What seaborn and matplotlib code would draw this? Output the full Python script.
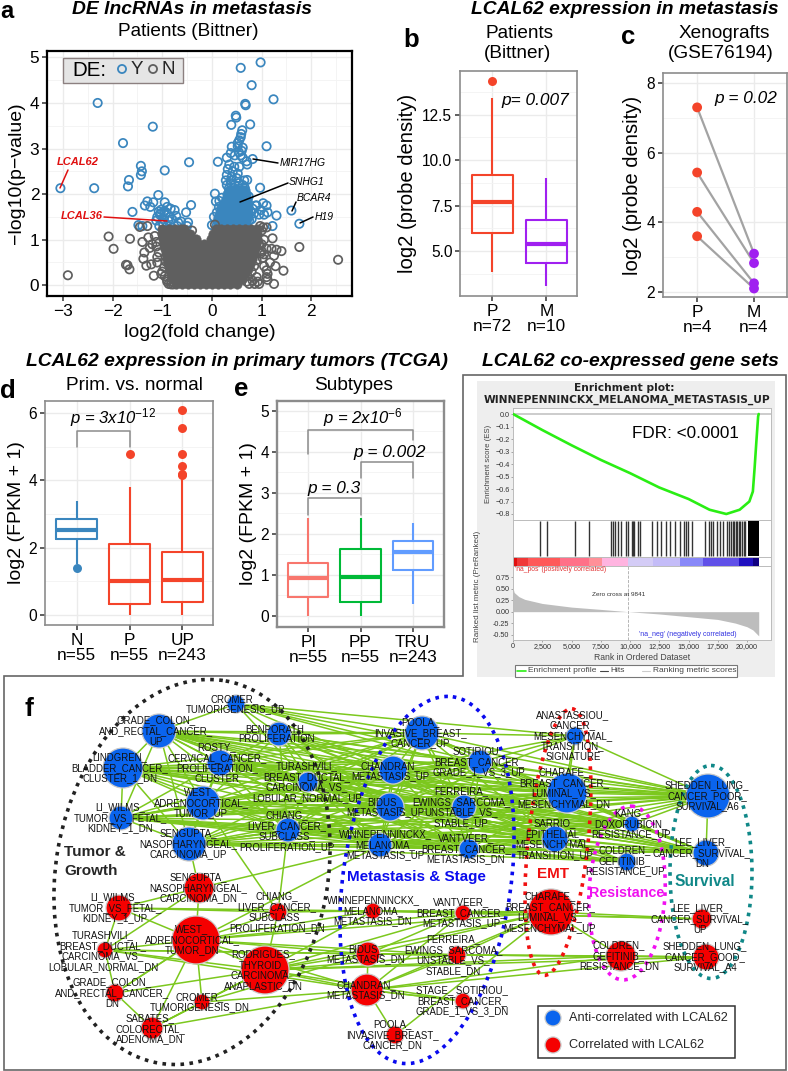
import matplotlib
matplotlib.use("Agg")
import matplotlib.pyplot as plt
from matplotlib.patches import Ellipse, Rectangle, Polygon
from matplotlib.ticker import MultipleLocator
import seaborn as sns

W, H = 788, 1071
sns.set_theme(style="whitegrid")
plt.rcParams['font.family'] = ['Liberation Sans', 'DejaVu Sans']
plt.rcParams['mathtext.fontset'] = 'custom'
plt.rcParams['mathtext.it'] = 'Liberation Sans:italic'
plt.rcParams['mathtext.rm'] = 'Liberation Sans'

# ---------- DATA ----------
blue_out_x = [-3.05,-2.37,-2.3,-1.79,-1.19,-1.43,-1.41,-1.43,-0.95,-0.46,-1.67,-1.69,-1.6,-1.08,
 -1.35,-1.3,-1.24,-1.18,-0.95,-0.9,-1.02,-1.05,-1.1,-1.12,-0.98,-0.92,-0.83,-0.85,-0.75,-0.72,-0.68,-0.62,-0.52,-0.42,-0.48,-0.5,-0.88,-1.0,-1.06,-1.48,-1.4,-0.7,-1.03,-0.96,-0.9,-0.98,-1.07,-0.8,
 0.98,0.58,0.8,1.24,0.67,0.68,0.48,0.49,0.39,0.77,0.61,0.59,0.58,0.55,0.52,1.1,0.4,0.52,0.62,0.6,0.54,0.38,0.46,0.3,0.58,0.62,0.82,0.7,0.71,0.12,0.35,0.45,0.55,0.32,0.42,0.52,0.3,0.4,0.28,0.5,0.38,0.65,0.71,0.97,0.06,
 0.9,0.98,1.03,1.1,1.12,1.05,0.95,0.85,0.8,0.75,1.3,1.22,0.88,0.82,1.6,1.76,0.1,0.0,0.04,0.1,0.15,0.16,0.2,
 0.3,0.38,0.46,0.54,0.62,0.34,0.44,0.56,0.66,0.2,0.74,0.78,0.72,0.08,0.14]
blue_out_y = [2.13,2.13,4.0,3.12,3.48,2.62,2.5,2.42,2.52,2.7,2.31,2.17,1.61,1.98,
 1.75,1.84,1.72,1.82,1.82,1.72,1.66,1.55,1.5,1.42,1.45,1.6,1.68,1.5,1.65,1.52,1.38,1.4,1.6,1.76,1.38,1.3,1.42,1.38,1.3,1.32,1.3,1.3,1.58,1.62,1.3,1.35,1.62,1.45,
 4.89,4.77,4.39,4.08,3.98,3.95,3.72,3.68,3.52,3.53,3.4,3.32,3.25,3.18,3.12,3.05,3.04,3.05,3.02,2.95,2.92,2.9,2.85,2.8,2.85,2.8,2.77,2.72,2.65,2.71,2.65,2.6,2.6,2.55,2.5,2.45,2.42,2.38,2.3,2.35,2.3,2.3,2.31,2.14,2.01,
 1.75,1.65,1.8,1.75,1.6,1.55,1.55,1.58,1.45,1.42,1.53,1.3,1.75,1.68,1.64,1.35,1.32,1.32,1.5,1.6,1.85,1.5,1.7,
 2.2,2.24,2.2,2.24,2.2,2.12,2.14,2.12,2.14,1.92,1.95,1.62,1.48,1.84,1.72]
blue_core = {
 2.1:[0.34,0.42,0.5,0.58,0.66], 2.0:[0.3,0.38,0.46,0.54,0.62,0.68], 1.9:[0.28,0.36,0.44,0.52,0.6,0.7],
 1.8:[0.24,0.32,0.4,0.48,0.56,0.64,0.72], 1.7:[0.2,0.28,0.36,0.44,0.52,0.6,0.68,0.72], 1.6:[0.16,0.24,0.32,0.4,0.48,0.56,0.64,0.72],
 1.5:[0.12,0.2,0.28,0.36,0.44,0.52,0.6,0.68,0.72], 1.4:[0.1,0.18,0.26,0.34,0.42,0.5,0.58,0.68], 1.3:[0.12,0.2,0.28,0.36,0.44,0.52,0.6]}
grey_out_x = [-2.9,-2.08,-1.98,-1.65,-1.73,-1.7,-1.66,-1.4,-1.36,-1.38,-1.32,-1.22,-1.17,-1.45,-1.3,-1.15,2.54,1.76,1.44,1.25,0.95,1.4,1.3,1.2,1.25,1.28,1.05,1.1,1.12,1.1,1.17,1.22,1.1,1.05,1.0,1.0,1.03,1.1,0.97,0.75,
 -1.28,-1.2,-1.25,-1.12,-1.07,-1.1,-1.02,-0.96,-0.93,-0.9,-0.87,-0.82,-0.78,-0.4,1.12,1.02,0.98,0.92,0.9,0.86,0.82,0.06,
 -1.1,-1.0,-0.95,-0.9,0.7,0.72,0.8,0.85,0.9,1.0,0.95,1.05,-1.12,-0.82]
grey_out_y = [0.22,1.07,0.8,1.02,0.45,0.44,0.35,0.95,0.72,0.58,0.43,0.46,0.21,1.28,1.3,1.08,0.56,0.84,0.32,0.03,0.03,0.75,0.78,0.8,0.65,0.42,0.42,0.33,0.25,0.18,0.5,1.03,0.8,1.0,0.9,1.2,1.27,1.27,1.3,0.03,
 1.05,0.9,0.82,0.95,0.72,0.62,0.25,0.4,0.52,0.12,0.03,0.08,0.02,1.2,0.12,0.6,0.7,0.08,0.18,0.03,0.1,1.33,
 0.5,0.3,0.2,0.08,0.08,0.2,0.3,0.42,0.55,0.75,0.9,0.68,0.85,0.02]
grey_core = {
 0.03:[-0.72,-0.6,-0.48,-0.36,-0.24,-0.12,0.0,0.12,0.24,0.36,0.5],
 0.14:[-0.78,-0.68,-0.56,-0.44,-0.32,-0.2,-0.08,0.04,0.16,0.28,0.4,0.52,0.6],
 0.25:[-0.82,-0.72,-0.6,-0.48,-0.36,-0.24,-0.12,0.0,0.12,0.24,0.36,0.48,0.6,0.66],
 0.36:[-0.85,-0.76,-0.64,-0.52,-0.4,-0.28,-0.16,-0.04,0.08,0.2,0.32,0.44,0.56,0.68,0.72],
 0.47:[-0.88,-0.78,-0.66,-0.54,-0.42,-0.3,-0.18,-0.06,0.06,0.18,0.3,0.42,0.54,0.66,0.76],
 0.58:[-0.9,-0.8,-0.68,-0.56,-0.44,-0.32,-0.2,-0.08,0.04,0.16,0.28,0.4,0.52,0.64,0.76,0.8],
 0.69:[-0.92,-0.84,-0.72,-0.6,-0.48,-0.36,-0.24,-0.12,0.0,0.12,0.24,0.36,0.48,0.6,0.72,0.84],
 0.8:[-0.94,-0.86,-0.74,-0.62,-0.5,-0.38,-0.26,-0.14,-0.02,0.1,0.22,0.34,0.46,0.58,0.7,0.86],
 0.91:[-0.96,-0.88,-0.76,-0.64,-0.52,-0.4,-0.28,-0.16,0.0,0.12,0.24,0.36,0.48,0.6,0.72,0.88],
 1.02:[-0.98,-0.9,-0.78,-0.66,-0.54,-0.42,-0.32,-0.02,0.08,0.2,0.32,0.44,0.56,0.68,0.8,0.9],
 1.13:[-1.0,-0.91,-0.79,-0.67,-0.55,-0.45,0.02,0.12,0.24,0.36,0.48,0.6,0.72,0.84,0.9],
 1.24:[-1.0,-0.86,-0.74,-0.62,-0.56,0.08,0.18,0.3,0.42,0.54,0.66,0.78,0.9]}

b_cats = ["P\nn=72", "M\nn=10"]
b_P = [3.85, 6.0, 7.7, 9.2, 13.4]
b_M = [3.1, 4.35, 5.4, 6.7, 9.0]
b_out = [14.35]
c_P = [7.3, 5.43, 4.3, 3.6]
c_M = [3.1, 2.83, 2.25, 2.1]
c_pair = [0, 1, 2, 3]
d_cats = ["N\nn=55", "P\nn=55", "UP\nn=243"]
d_N = [1.5, 2.25, 2.52, 2.85, 3.4]
d_Pr = [0.0, 0.33, 1.0, 2.1, 3.8]
d_UP = [0.0, 0.38, 1.05, 1.88, 4.1]
d_out_N = [1.38]
d_out_P = [4.78]
d_out_UP = [4.15, 4.2, 4.42, 4.78, 5.55, 6.08]
e_cats = ["PI\nn=55", "PP\nn=55", "TRU\nn=243"]
e_PI = [0.0, 0.45, 0.92, 1.28, 2.38]
e_PP = [0.0, 0.35, 0.95, 1.62, 2.38]
e_TRU = [0.3, 1.13, 1.56, 1.83, 2.27]
es_rank = [0,2500,5000,7500,10000,12500,15000,16800,18230,19370,20200,20500,20650,20800,20950,21000]
es_val = [0,-0.128,-0.25,-0.367,-0.473,-0.588,-0.68,-0.766,-0.8,-0.766,-0.70,-0.62,-0.43,-0.22,-0.02,0]
hit_ranks = [2290,2940,5340,6490,8340,8510,8740,9000,9200,9630,9860,10170,10260,10340,10710,10860,11910,12290,12660,13060,13430,13860,14230,14630,14800,14940,15290,16370,16710,16910,17060,17430,17660,17940,18290,18460,18630,18770,18910,19060,19140,19290,19430,19570,19710,19860]
band_edges = [0,300,1300,4000,6500,7600,9841,12000,14300,16200,19300,20500,21000]
band_colors = ['#E01010','#F03838','#FF5858','#FF7088','#FF9098','#FFB4E0','#D4CCF6','#C4BCF8','#8888F8','#6050E8','#2010C0','#100080']
metric_rank = [0,100,500,1000,2500,5000,7500,9841,12500,15000,17500,19000,20000,20500,21000]
metric_val = [0.52,0.42,0.33,0.27,0.18,0.10,0.05,0,-0.05,-0.11,-0.17,-0.25,-0.33,-0.40,-0.53]

node_labels = ["CROMER_\nTUMORIGENESIS_UP","GRADE_COLON_\nAND_RECTAL_CANCER_\nUP","BENPORATH_\nPROLIFERATION","ROSTY_\nCERVICAL_CANCER_\nPROLIFERATION_\nCLUSTER",
 "LINDGREN_\nBLADDER_CANCER_\nCLUSTER_1_DN","TURASHVILI_\nBREAST_DUCTAL_\nCARCINOMA_VS_\nLOBULAR_NORMAL_UP","WEST_\nADRENOCORTICAL_\nTUMOR_UP","LI_WILMS_\nTUMOR_VS_FETAL_\nKIDNEY_1_DN",
 "CHIANG_\nLIVER_CANCER_\nSUBCLASS_\nPROLIFERATION_UP","SENGUPTA_\nNASOPHARYNGEAL_\nCARCINOMA_UP","CHANDRAN_\nMETASTASIS_UP","BIDUS_\nMETASTASIS_UP",
 "WINNEPENNINCKX_\nMELANOMA_\nMETASTASIS_UP","POOLA_\nINVASIVE_BREAST_\nCANCER_UP","SOTIRIOU_\nBREAST_CANCER_\nGRADE_1_VS_3_UP","FERREIRA_\nEWINGS_SARCOMA_\nUNSTABLE_VS_\nSTABLE_UP",
 "VANTVEER_\nBREAST_CANCER_\nMETASTASIS_DN","ANASTASSIOU_\nCANCER_\nMESENCHYMAL_\nTRANSITION_\nSIGNATURE","CHARAFE_\nBREAST_CANCER_\nLUMINAL_VS_\nMESENCHYMAL_DN","SARRIO_\nEPITHELIAL_\nMESENCHYMAL_\nTRANSITION_UP",
 "KANG_\nDOXORUBICIN_\nRESISTANCE_UP","COLDREN_\nGEFITINIB_\nRESISTANCE_UP","SHEDDEN_LUNG_\nCANCER_POOR_\nSURVIVAL_A6","LEE_LIVER_\nCANCER_SURVIVAL_\nDN",
 "SENGUPTA_\nNASOPHARYNGEAL_\nCARCINOMA_DN","LI_WILMS_\nTUMOR_VS_FETAL_\nKIDNEY_1_UP","CHIANG_\nLIVER_CANCER_\nSUBCLASS_\nPROLIFERATION_DN","WEST_\nADRENOCORTICAL_\nTUMOR_DN",
 "TURASHVILI_\nBREAST_DUCTAL_\nCARCINOMA_VS_\nLOBULAR_NORMAL_DN","RODRIGUES_\nTHYROID_\nCARCINOMA_\nANAPLASTIC_DN","GRADE_COLON_\nAND_RECTAL_CANCER_\nDN","CROMER_\nTUMORIGENESIS_DN",
 "SABATES_\nCOLORECTAL_\nADENOMA_DN","WINNEPENNINCKX_\nMELANOMA_\nMETASTASIS_DN","BIDUS_\nMETASTASIS_DN","CHANDRAN_\nMETASTASIS_DN",
 "POOLA_\nINVASIVE_BREAST_\nCANCER_DN","VANTVEER_\nBREAST_CANCER_\nMETASTASIS_UP","FERREIRA_\nEWINGS_SARCOMA_\nUNSTABLE_VS_\nSTABLE_DN","STAGE_ SOTIRIOU_\nBREAST_CANCER_\nGRADE_1_VS_3_DN",
 "CHARAFE_\nBREAST_CANCER_\nLUMINAL_VS_\nMESENCHYMAL_UP","COLDREN_\nGEFITINIB_\nRESISTANCE_DN","LEE_LIVER_\nCANCER_SURVIVAL_\nUP","SHEDDEN_LUNG_\nCANCER_GOOD_\nSURVIVAL_A4"]
node_x = [236,159,279,220,123,308,203,121,288,189,393,390,380,422,480,464,469,575,567,555,632,627,708,706,
          199,119,278,196,105,265,115,202,152,373,368,367,395,463,457,463,551,621,702,706]
node_y = [704,731,734,763,768,782,803,818,830,844,770,807,845,733,762,807,849,736,793,839,824,862,796,853,
          888,908,912,940,950,970,993,1002,1028,911,954,990,1035,913,955,1001,912,956,919,957]
node_r = [9,17,12,13,20,10,17,12,12,17,14,14,12,17,12,12,10,9,20,13,8,9,22,13,
          15,13,9,24,8,24,9,8,11,8,12,16,9,8,9,8,23,15,10,13]
label_x = [235,156,277,217,120,307,201,120,287,188,390,385,385,420,479,461,466,573,564,555,631,625,707,702,
           198,115,277,192,103,263,112,200,150,373,366,366,392,461,453,462,550,619,700,705]
label_y = [704,731,734,763,768,782,803,818,831,844,771,807,845,733,762,807,849,736,788,839,824,861,796,853,
           888,908,912,940,951,970,993,1002,1029,911,954,990,1035,913,955,1001,912,956,919,957]
blue_hub_edges = {
 0:[1,2,5,10,13,14,17,18,22],
 1:[2,3,4,5,6,7,8,9,10,11,12,13,14,15,16,18,19,20,22,23],
 2:[3,5,6,8,10,11,12,13,14,15,16,18,19,20,22],
 3:[4,5,6,7,8,9,10,11,12,13,14,15,16,18,19,20,22,23],
 4:[6,7,8,9,10,11,12,13,14,15,16,18,19,20,22,23,5],
 5:[6,8,10,11,12,13,14,15,16,18,19,20,22,23],
 6:[7,8,9,10,11,12,13,14,15,16,18,19,20,21,22,23],
 7:[8,9,10,11,12,13,14,15,16,18,19,20,21,22,23],
 8:[9,10,11,12,13,14,15,16,18,19,20,21,22,23],
 9:[10,11,12,13,14,15,16,18,19,20,21,22,23],
 10:[11,12,13,14,15,16,17,18,19,20,21,22,23],
 11:[12,13,14,15,16,17,18,19,20,21,22,23],
 12:[13,14,15,16,18,19,20,21,22,23],
 13:[14,15,16,17,18,19,22,23],
 14:[15,16,17,18,19,22,23],
 15:[16,18,19,20,22,23],
 16:[18,19,20,21,22,23],
 17:[18,19,22],18:[19,20,22,23],19:[20,21,22,23],20:[22,23],22:[23]}
red_hub_edges = {
 24:[25,27,28,9,12],25:[27,28,26,33],26:[27,29,33,6,8],27:[28,29,30,31,32,33,34,35,37,38,40,12],
 28:[29,30,34,35,38],29:[30,31,32,33,34,35,37,38,39,40,41,43],30:[32,27],31:[32,35,34],32:[35,29],
 33:[37,40,42],34:[35,37,38,40,43],35:[36,38,39,40,41,43,37],38:[40,41,43,34],37:[40,42],39:[35],40:[41,42,33,36],41:[43]}
anti_label = "Anti-correlated with LCAL62"
corr_label = "Correlated with LCAL62"

RED = '#F4442A'; PURPLE = '#A020F0'; STEEL = '#3A86BE'; GREYPT = '#5F5F5F'; GRID = '#EBEBEB'

fig = plt.figure(figsize=(W/100, H/100), dpi=100, facecolor='white')

def axpx(l, t, r, b, **kw):
    return fig.add_axes([l/W, 1-b/H, (r-l)/W, (b-t)/H], **kw)

def style(ax, spine='#8C8C8C', lw=1.2, yfs=11.2, xfs=12.4):
    ax.set_axisbelow(True)
    ax.grid(True, which='major', color=GRID, lw=1.0)
    ax.grid(True, which='minor', color='#F3F3F3', lw=0.6)
    for s in ax.spines.values():
        s.set_visible(True); s.set_color(spine); s.set_linewidth(lw)
    ax.tick_params(which='major', axis='both', length=3.5, width=1.1, color='#333333',
                   labelcolor='black', bottom=True, left=True, pad=2)
    ax.tick_params(axis='y', labelsize=yfs)
    ax.tick_params(axis='x', labelsize=xfs)
    ax.tick_params(which='minor', length=0)
    for t in ax.get_xticklabels():
        t.set_linespacing(1.0)

def rings(ax, x, y, color, s=36, lw=1.25, z=3):
    sns.scatterplot(x=x, y=y, s=s, color=color, ax=ax, legend=False, zorder=z)
    pc = ax.collections[-1]
    pc.set_facecolor('none'); pc.set_edgecolor(color); pc.set_linewidth(lw)

def box(ax, cats, vals, cols, width=0.77):
    xs = [c for c, v in zip(cats, vals) for _ in v]
    ys = [q for v in vals for q in v]
    sns.boxplot(x=xs, y=ys, hue=xs, order=cats, hue_order=cats, palette=dict(zip(cats, cols)),
                fill=False, width=width, whis=(0, 100), linewidth=1.5, gap=0,
                showcaps=False, dodge=False, legend=False, ax=ax,
                medianprops=dict(linewidth=3.0), showfliers=False)

LBL = 14.0
# ---------- a: volcano ----------
ax = axpx(47, 51, 352, 296)
gx = [x for y, xs in grey_core.items() for x in xs]
gy = [y for y, xs in grey_core.items() for x in xs]
sns.scatterplot(x=gx, y=gy, s=46, color=GREYPT, ax=ax, legend=False, zorder=3, edgecolor=GREYPT, linewidth=0.4)
rings(ax, grey_out_x, grey_out_y, GREYPT)
bx = [x for y, xs in blue_core.items() for x in xs]
by = [y for y, xs in blue_core.items() for x in xs]
sns.scatterplot(x=bx, y=by, s=46, color=STEEL, ax=ax, legend=False, zorder=2, edgecolor=STEEL, linewidth=0.4)
rings(ax, blue_out_x, blue_out_y, STEEL, z=2.5)
ax.set_xlim(-3.32, 2.82); ax.set_ylim(-0.235, 5.14)
ax.xaxis.set_major_locator(MultipleLocator(1)); ax.xaxis.set_minor_locator(MultipleLocator(0.5))
ax.yaxis.set_major_locator(MultipleLocator(1)); ax.yaxis.set_minor_locator(MultipleLocator(0.5))
style(ax, spine='black', lw=1.6, yfs=12.4, xfs=12.4)
ax.set_xlabel("log2(fold change)", fontsize=LBL, labelpad=4, color='black')
ax.set_ylabel("\u2212log10(p\u2212value)", fontsize=LBL, labelpad=3, color='black')

# ---------- b ----------
ax = axpx(460, 71, 577, 296)
box(ax, b_cats, [b_P, b_M], [RED, PURPLE])
sns.scatterplot(x=[b_cats[0]]*len(b_out), y=b_out, s=42, color=RED, linewidth=0, ax=ax, legend=False, zorder=4)
ax.set_xlim(-0.6, 1.57); ax.set_ylim(2.53, 14.9)
ax.yaxis.set_major_locator(MultipleLocator(2.5)); ax.yaxis.set_minor_locator(MultipleLocator(1.25))
style(ax)
ax.set_ylabel("log2 (probe density)", fontsize=14.6, labelpad=4, color='black')
ax.set_xlabel("")
ax.yaxis.set_major_formatter(lambda v, p: f"{v:.1f}")

# ---------- c ----------
ax = axpx(663, 73, 787, 297)
c_xcats = ["P\nn=4", "M\nn=4"]
lx = [c_xcats[0]]*4 + [c_xcats[1]]*4
sns.lineplot(x=lx, y=c_P + c_M, units=c_pair + c_pair, estimator=None, color='#A3A3A3', lw=1.6, ax=ax, legend=False, zorder=2, sort=False)
sns.scatterplot(x=lx, y=c_P + c_M, hue=lx, palette={c_xcats[0]: RED, c_xcats[1]: PURPLE}, s=50, linewidth=0, ax=ax, legend=False, zorder=3)
ax.set_xlim(-0.6, 1.58); ax.set_ylim(1.856, 8.287)
ax.yaxis.set_major_locator(MultipleLocator(2)); ax.yaxis.set_minor_locator(MultipleLocator(1))
style(ax)
ax.set_ylabel("log2 (probe density)", fontsize=14.6, labelpad=3.5, color='black')

# ---------- d ----------
ax = axpx(45, 401, 213, 625)
box(ax, d_cats, [d_N, d_Pr, d_UP], [STEEL, RED, RED])
sns.scatterplot(x=[d_cats[0]]*len(d_out_N), y=d_out_N, s=42, color=STEEL, linewidth=0, ax=ax, legend=False, zorder=4)
sns.scatterplot(x=[d_cats[1]]*len(d_out_P), y=d_out_P, s=42, color=RED, linewidth=0, ax=ax, legend=False, zorder=4)
sns.scatterplot(x=[d_cats[2]]*len(d_out_UP), y=d_out_UP, s=42, color=RED, linewidth=0, ax=ax, legend=False, zorder=4)
ax.set_xlim(-0.6, 2.58); ax.set_ylim(-0.3, 6.36)
ax.yaxis.set_major_locator(MultipleLocator(2)); ax.yaxis.set_minor_locator(MultipleLocator(1))
style(ax)
ax.set_ylabel("log2 (FPKM + 1)", fontsize=LBL, labelpad=3, color='black')
ax.plot([0, 0, 1, 1], [4.98, 5.46, 5.46, 4.98], color='#8C8C8C', lw=1.1, zorder=3)

# ---------- e ----------
ax = axpx(277, 401, 444, 627)
box(ax, e_cats, [e_PI, e_PP, e_TRU], ['#F8766D', '#00BA38', '#619CFF'])
ax.set_xlim(-0.6, 2.6); ax.set_ylim(-0.27, 5.24)
ax.yaxis.set_major_locator(MultipleLocator(1)); ax.yaxis.set_minor_locator(MultipleLocator(0.5))
style(ax, lw=1.7)
ax.set_ylabel("log2 (FPKM + 1)", fontsize=LBL, labelpad=3, color='black')
ax.plot([0, 0, 2, 2], [3.95, 4.53, 4.53, 4.29], color='#8C8C8C', lw=1.1, zorder=3)
ax.plot([1, 1, 2, 2], [3.36, 3.76, 3.76, 3.36], color='#8C8C8C', lw=1.1, zorder=3)
ax.plot([0, 0, 1, 1], [2.46, 2.87, 2.87, 2.46], color='#8C8C8C', lw=1.1, zorder=3)

# ---------- overlay ----------
ov = fig.add_axes([0, 0, 1, 1], zorder=10)
ov.patch.set_alpha(0); ov.set_xlim(0, W); ov.set_ylim(H, 0); ov.axis('off')

# outer frame of panels (GSEA + f share one outline)
ov.add_patch(Polygon([(4.5, 675.5), (463.5, 675.5), (463.5, 374.5), (786.5, 374.5), (786.5, 1070), (4.5, 1070)],
                     closed=True, fill=False, ec='#666666', lw=1.2))
ov.add_patch(Rectangle((477, 381), 298, 296, fc='#EEEEEE', ec='none', zorder=0))

def gs_style(ax):
    for s in ax.spines.values():
        s.set_color('#BBBBBB'); s.set_linewidth(0.7)
    ax.tick_params(axis='both', labelsize=5.2, length=1.5, width=0.5, color='#888888', labelcolor='#333333', pad=1, bottom=True, left=True)
    ax.set_facecolor('white'); ax.grid(False); ax.set_zorder(11)

a1 = axpx(513, 408, 771, 520); gs_style(a1)
a1.axhline(0, color='#CCCCCC', lw=1.4, zorder=1)
sns.lineplot(x=es_rank, y=es_val, color='#2AEE14', lw=1.9, ax=a1, legend=False, zorder=3, estimator=None, sort=False)
a1.set_xlim(0, 22050); a1.set_ylim(-0.848, 0.048); a1.set_xticks([])
a1.set_yticks([0, -.1, -.2, -.3, -.4, -.5, -.6, -.7, -.8])
a1.set_ylabel("Enrichment score (ES)", fontsize=5.6, color='#444444', labelpad=2)

a2 = axpx(513, 520, 771, 557); gs_style(a2)
a2.vlines(hit_ranks, 0.02, 0.98, color='#333333', lw=1.0)
a2.axvspan(20060, 21000, ymin=0.02, ymax=0.98, color='black', lw=0)
a2.set_xlim(0, 22050); a2.set_ylim(0, 1); a2.set_xticks([]); a2.set_yticks([])

a3 = axpx(513, 557, 771, 566); gs_style(a3)
for i, c in enumerate(band_colors):
    a3.axvspan(band_edges[i], band_edges[i+1], color=c, lw=0)
a3.set_xlim(0, 22050); a3.set_xticks([]); a3.set_yticks([])

a4 = axpx(513, 566, 771, 640); gs_style(a4)
a4.fill_between(metric_rank, metric_val, 0, color='#BDBDBD', lw=0)
a4.axvline(9841, color='#AAAAAA', lw=0.6, ls='--')
a4.set_xlim(0, 22050); a4.set_ylim(-0.62, 1.0)
a4.set_yticks([0.75, 0.5, 0.25, 0, -0.25, -0.5]); a4.set_yticklabels(['0.75','0.50','0.25','0.00','-0.25','-0.50'])
a4.set_xticks([0, 2500, 5000, 7500, 10000, 12500, 15000, 17500, 20000])
a4.set_xticklabels(['0','2,500','5,000','7,500','10,000','12,500','15,000','17,500','20,000'])
a4.set_ylabel("Ranked list metric (PreRanked)", fontsize=5.8, color='#444444', labelpad=4)
a4.yaxis.set_label_coords(-0.125, 0.72)
a4.set_xlabel("Rank in Ordered Dataset", fontsize=6.2, color='#444444', labelpad=1.5)
a4.text(9000, 0.38, "Zero cross at 9841", fontsize=4.6, color='#333333', ha='center', va='center')
a4.text(200, 0.92, "'na_pos' (positively correlated)", fontsize=4.9, color='#E03030', ha='left', va='center')
a4.text(14900, -0.51, "'na_neg' (negatively correlated)", fontsize=5.0, color='#3030E0', ha='center', va='center')

top = fig.add_axes([0, 0, 1, 1], zorder=12)
top.patch.set_alpha(0); top.set_xlim(0, W); top.set_ylim(H, 0); top.axis('off')
top.text(632, 434, "FDR: <0.0001", fontsize=12.3, ha='left', va='center', color='black')
ov.text(624, 388, "Enrichment plot:", fontsize=7.7, fontweight='bold', family='DejaVu Sans', ha='center', va='center', color='#222222')
ov.text(627, 400, "WINNEPENNINCKX_MELANOMA_METASTASIS_UP", fontsize=7.7, fontweight='bold', family='DejaVu Sans', ha='center', va='center', color='#222222')
ov.add_patch(Rectangle((515, 665), 222, 12, fc='white', ec='#777777', lw=0.8))
ov.plot([517, 526], [671, 671], color='#2AEE14', lw=1.2)
ov.text(528, 671, "Enrichment profile", fontsize=6, va='center', color='#444444')
ov.plot([600, 608], [671, 671], color='#444444', lw=0.8)
ov.text(610, 671, "Hits", fontsize=6, va='center', color='#444444')
ov.plot([642, 650], [671, 671], color='#CCCCCC', lw=0.8)
ov.text(653, 671, "Ranking metric scores", fontsize=6, va='center', color='#444444')

# volcano legend
ov.add_patch(Rectangle((63.5, 57.5), 120, 25, fc='#E5E5E5', ec='#8C8080', lw=1.0))
ov.text(72, 70, "DE:", fontsize=14.8, va='center', color='black')
sns.scatterplot(x=[122], y=[69], s=34, color=STEEL, ax=ov, legend=False)
ov.collections[-1].set_facecolor('none'); ov.collections[-1].set_edgecolor(STEEL); ov.collections[-1].set_linewidth(1.3)
sns.scatterplot(x=[153], y=[69], s=34, color=GREYPT, ax=ov, legend=False)
ov.collections[-1].set_facecolor('none'); ov.collections[-1].set_edgecolor(GREYPT); ov.collections[-1].set_linewidth(1.3)
ov.text(137, 70, "Y", fontsize=13.5, ha='center', va='center')
ov.text(168, 70, "N", fontsize=13.5, ha='center', va='center')

# volcano annotations
for t, tx, ty, x0, y0, x1, y1, col, fs, wt in [
    ("LCAL62", 78, 162, 68, 170, 60, 188, '#E01010', 8.0, 'bold'),
    ("LCAL36", 82, 216, 104, 217, 167, 221, '#E01010', 8.0, 'bold'),
    ("MIR17HG", 303, 163, 278, 163, 253, 159, 'black', 7.5, 'normal'),
    ("SNHG1", 307, 182, 288, 183, 240, 202, 'black', 7.5, 'normal'),
    ("BCAR4", 314, 198, 296, 202, 292, 211, 'black', 7.5, 'normal'),
    ("H19", 324, 217, 313, 217, 300, 223, 'black', 7.5, 'normal')]:
    ov.text(tx, ty, t, fontsize=fs, style='italic', fontweight=wt, color=col, ha='center', va='center')
    ov.plot([x0, x1], [y0, y1], color=col, lw=1.1)

# Titles
def bi(x, y, t, fs=13.9):
    ov.text(x, y, t, fontsize=fs, fontweight='bold', style='italic', ha='center', va='center', color='black')
def nt(x, y, t, fs=13.7):
    ov.text(x, y, t, fontsize=fs, ha='center', va='center', color='black')
def let(x, y, t, fs=18.5):
    ov.text(x, y, t, fontsize=fs, fontweight='bold', ha='center', va='baseline', color='black')
bi(192, 10, "DE lncRNAs in metastasis"); bi(625, 10, "LCAL62 expression in metastasis")
bi(237, 362, "LCAL62 expression in primary tumors (TCGA)"); bi(630, 362, "LCAL62 co-expressed gene sets")
nt(188, 31, "Patients (Bittner)"); nt(520, 34, "Patients"); nt(518, 54, "(Bittner)")
nt(724, 34, "Xenografts"); nt(721, 54, "(GSE76194)")
nt(134, 385, "Prim. vs. normal"); nt(354, 385, "Subtypes")
let(7, 18, "a", 17); let(411, 47, "b"); let(628, 44, "c"); let(8, 398, "d"); let(241, 396, "e"); let(29, 716, "f", 19)
def pv(x, y, t, fs=12.4):
    ov.text(x, y, t, fontsize=fs, style='italic', ha='center', va='center', color='black')
pv(535, 101, "p= 0.007"); pv(746, 99, "p = 0.02")
pv(113, 418, r"$p$ = 3x10$^{-12}$", 12.0); pv(363, 418, r"$p$ = 2x10$^{-6}$", 12.0)
pv(390, 452, "p = 0.002"); pv(334, 488, "p = 0.3")

# ---------- f: network ----------
GREEN = '#7CC81E'
for src, tgts in list(blue_hub_edges.items()) + list(red_hub_edges.items()):
    for t in tgts:
        ov.plot([node_x[src], node_x[t]], [node_y[src], node_y[t]], color=GREEN, lw=1.1, zorder=1, solid_capstyle='round')
for cx, cy, w, h, ang, col in [(192, 872, 272, 388, 10, '#222222'), (427, 880, 168, 370, 8, '#0A0AEE'),
                               (558, 842, 60, 268, 6, '#F01010'), (627, 893, 76, 174, 3, '#F010F0'),
                               (711, 872, 82, 213, 0, '#108888')]:
    ov.add_patch(Ellipse((cx, cy), w, h, angle=ang, fill=False, ec=col, lw=2.6, ls=(0, (1, 1.5)), zorder=4))
kinds = ['anti' if r < 24 else 'corr' for r in range(len(node_x))]
sns.scatterplot(x=node_x, y=node_y, hue=kinds, palette={'anti': '#0A64EE', 'corr': '#F50000'},
                s=[(2*r*0.72)**2 for r in node_r], edgecolor='#C9C9C9', linewidth=0.9, ax=ov, legend=False, zorder=3)
for lab, lx_, ly_ in zip(node_labels, label_x, label_y):
    ov.text(lx_, ly_, lab, fontsize=6.9, color='#111111', ha='center', va='center', linespacing=1.07, zorder=6)
ov.set_xlim(0, W); ov.set_ylim(H, 0)

ov.text(64, 852, "Tumor &", fontsize=11, fontweight='bold', ha='left', va='center', zorder=7)
ov.text(64, 871, "Growth", fontsize=11, fontweight='bold', ha='left', va='center', zorder=7)
ov.text(416, 877, "Metastasis & Stage", fontsize=11, fontweight='bold', color='#0A0AEE', ha='center', va='center', zorder=7)
ov.text(553, 874, "EMT", fontsize=11, fontweight='bold', color='#F01010', ha='center', va='center', zorder=7)
ov.text(627, 893, "Resistance", fontsize=10.3, fontweight='bold', color='#F010F0', ha='center', va='center', zorder=7)
ov.text(705, 882, "Survival", fontsize=11.2, fontweight='bold', color='#108888', ha='center', va='center', zorder=7)

ov.add_patch(Rectangle((538, 1006), 197, 52, fc='white', ec='#333333', lw=1.1, zorder=7))
sns.scatterplot(x=[553, 553], y=[1018, 1045], hue=[anti_label, corr_label], palette={anti_label: '#0A64EE', corr_label: '#F50000'},
                s=(16*0.72)**2, edgecolor='#C9C9C9', linewidth=0.9, ax=ov, legend=False, zorder=8)
ov.text(569, 1018, anti_label, fontsize=9.2, va='center', zorder=8)
ov.text(569, 1045, corr_label, fontsize=9.2, va='center', zorder=8)
ov.set_xlim(0, W); ov.set_ylim(H, 0)

fig.savefig("out.png", dpi=100, facecolor='white')
